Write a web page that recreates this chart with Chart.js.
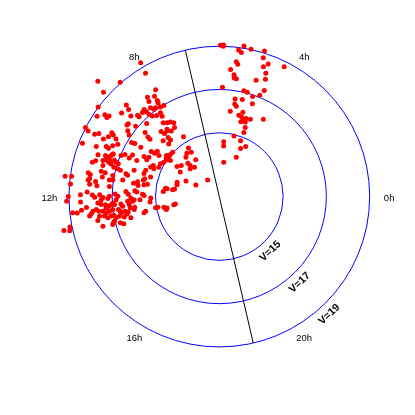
<!DOCTYPE html>
<html>
<head>
<meta charset="utf-8">
<title>RA / V</title>
<script src="https://cdn.jsdelivr.net/npm/chart.js@4.4.0/dist/chart.umd.min.js"></script>
<style>
  html, body { margin: 0; padding: 0; background: #fff; }
  #wrap { width: 415px; height: 415px; }
</style>
</head>
<body>
<div id="wrap"><canvas id="raChart"></canvas></div>
<script>
/* =====================
   DATA (RA in hours, V magnitude)
   ===================== */
const raHours = [
  // east group (4h - 6h)
  5.97, 5.90, 5.89, 5.38, 5.19, 5.50, 5.42, 4.85, 4.83, 5.52, 5.47, 4.65,
  4.75, 4.23, 5.66, 4.62, 5.54, 5.52, 5.45, 4.83, 4.57, 5.89, 5.13, 5.00,
  4.47, 4.77, 4.55, 5.39, 5.11, 5.37, 5.29, 4.69, 5.51, 4.96, 5.10, 4.95,
  4.83, 4.74, 4.54, 4.93, 4.72, 4.02, 4.63, 4.60, 5.09, 4.61, 5.69, 5.67,
  4.15, 4.41, 4.44, 5.51,
  // west group (8h - 13h)
  8.03, 9.10, 8.73, 9.20, 9.57, 9.03, 9.30, 9.78, 9.63, 9.66, 9.59, 9.08, 9.18,
  8.06, 8.05, 8.39, 8.19, 8.43, 8.19, 8.21, 8.72, 8.71, 8.83, 8.52,
  8.46, 8.38, 8.22, 8.09, 9.01, 9.01, 8.70, 8.65, 8.51, 8.34, 8.36,
  10.18, 10.23, 10.23, 10.16, 10.24, 10.11, 9.99, 10.58, 10.52, 10.41, 10.43, 10.30,
  10.73, 10.68, 10.70, 10.61, 10.54, 10.99, 10.92, 10.85, 10.80, 10.85, 10.78, 10.88,
  11.00, 11.19, 11.21, 11.31, 11.35, 11.50, 11.48, 11.47, 11.37, 11.25,
  9.48, 9.42, 9.33, 8.99, 8.48, 9.95, 9.62, 9.71, 9.28, 9.34, 9.36, 8.79,
  8.73, 8.56, 10.06, 10.18, 9.89, 9.86, 9.01, 10.55, 10.49, 10.40, 10.29, 9.86,
  9.77, 9.75, 9.59, 9.72, 10.73, 10.77, 10.80, 10.45, 10.43, 10.13, 10.21, 10.05,
  10.06, 9.88, 9.66, 9.48, 10.96, 10.98, 11.01, 11.08, 11.13, 10.86, 10.87, 10.69,
  10.45, 10.32, 10.46, 10.27, 10.94, 11.10,
  8.35, 8.22, 8.11, 8.52, 8.41, 8.20, 8.06, 8.73, 8.72, 8.93, 9.10, 9.29,
  9.44, 8.16, 8.46, 8.16, 8.69, 9.64, 9.57, 8.17, 8.88, 8.88, 9.63, 9.38,
  9.86, 9.09, 8.68,
  11.68, 11.52, 11.64, 11.54, 11.66, 11.43, 11.65, 12.00, 12.12, 11.95, 11.87, 11.95,
  12.02, 11.94, 12.10, 12.03, 12.07, 11.99, 12.15, 12.20, 12.26, 12.27, 12.38, 12.33,
  12.29, 12.31, 12.42, 12.44, 12.38, 12.44, 12.40, 12.46, 12.48, 12.55, 12.51, 12.47,
  12.57, 12.51, 12.62, 12.64, 12.72, 12.68, 12.74, 12.95, 12.93, 12.77, 12.82, 12.86,
  11.41, 11.35, 11.41, 11.31, 11.48, 11.18, 11.41, 11.35, 11.41, 11.65, 11.91, 11.99,
  12.12, 11.79, 11.90, 11.74, 11.79, 11.88, 11.94, 12.08, 12.30, 12.06, 12.21, 12.14,
  12.15, 12.23, 12.29, 12.29, 12.38, 12.20, 12.34, 12.48, 12.58, 12.48, 12.67, 12.66,
  12.73, 12.84, 12.49, 12.56, 12.63, 12.59, 12.71, 12.64, 12.81, 12.75, 12.67, 12.77,
  12.74, 12.81, 12.90, 12.88, 12.99, 13.06, 12.98,
  10.75, 10.97, 10.33, 10.24, 8.34, 11.44, 11.45, 11.35, 12.67, 12.64, 12.82, 12.92
];

const vMag = [
  19.05, 19.00, 19.06, 19.10, 19.02, 18.88, 18.79, 19.09, 18.78, 18.33, 18.22, 18.58,
  18.39, 18.76, 17.95, 18.14, 17.72, 17.57, 17.55, 17.69, 17.88, 17.11, 17.07, 17.04,
  17.38, 16.92, 17.09, 16.62, 16.66, 16.39, 16.30, 16.60, 16.03, 16.10, 15.92, 15.87,
  15.79, 15.87, 15.90, 15.65, 15.70, 16.16, 15.46, 15.22, 14.93, 14.81, 14.59, 14.40,
  14.67, 14.48, 14.03, 13.65,

  19.22, 19.79, 19.04, 19.25, 19.01, 18.08, 17.99, 18.81, 18.55, 18.40, 18.36, 17.86, 17.58,
  18.69, 17.80, 17.72, 17.57, 17.52, 17.33, 17.22, 17.37, 17.22, 17.31, 17.24,
  17.09, 17.10, 17.01, 16.98, 17.38, 17.28, 17.05, 16.89, 16.79, 16.78, 16.61,
  19.01, 18.83, 18.49, 18.33, 18.03, 17.87, 17.71, 18.84, 18.19, 17.76, 17.64, 17.51,
  17.98, 17.64, 17.48, 17.40, 17.33, 18.13, 18.00, 17.68, 17.55, 17.40, 17.35, 17.27,
  17.62, 17.63, 17.44, 18.21, 18.10, 19.24, 18.94, 18.10, 17.53, 17.07,
  17.45, 17.44, 17.10, 16.81, 16.34, 17.83, 17.26, 17.10, 16.58, 16.35, 16.21, 16.08,
  15.91, 15.93, 17.51, 17.33, 16.81, 16.66, 15.71, 17.35, 16.97, 16.82, 16.50, 16.33,
  15.82, 15.65, 15.60, 15.42, 17.18, 17.08, 16.96, 16.58, 16.21, 15.99, 15.81, 15.78,
  15.16, 15.07, 15.00, 15.14, 17.11, 16.92, 16.78, 16.49, 16.40, 16.17, 15.69, 15.66,
  15.50, 15.42, 15.34, 15.16, 15.35, 15.60,
  16.23, 16.17, 16.06, 15.99, 15.81, 15.85, 15.27, 15.66, 15.50, 15.42, 15.02, 15.03,
  15.03, 14.71, 14.55, 14.47, 14.43, 15.06, 14.86, 14.07, 14.17, 14.02, 14.45, 14.32,
  14.18, 13.91, 13.83,
  18.95, 18.16, 18.07, 17.81, 17.73, 17.19, 17.15, 19.03, 19.11, 18.47, 18.16, 17.92,
  17.81, 17.58, 17.51, 17.43, 17.20, 17.13, 18.47, 17.67, 17.52, 17.32, 17.31, 17.17,
  17.06, 18.21, 18.87, 18.66, 18.45, 17.93, 17.77, 17.65, 17.47, 17.33, 17.17, 17.01,
  18.11, 18.02, 17.66, 17.43, 17.29, 17.13, 17.77, 17.60, 17.09, 19.10, 19.40, 19.14,
  17.03, 16.58, 16.06, 15.89, 15.84, 15.64, 15.57, 15.42, 14.57, 14.65, 16.87, 16.74,
  16.82, 16.37, 16.26, 15.96, 15.87, 15.60, 15.53, 15.22, 15.26, 16.14, 16.06, 15.99,
  15.72, 16.98, 16.91, 16.61, 16.54, 16.29, 16.23, 16.20, 16.03, 15.99, 15.04, 14.93,
  14.66, 14.60, 16.75, 16.68, 16.63, 16.46, 16.39, 16.32, 15.61, 15.52, 17.00, 16.92,
  16.76, 16.54, 16.25, 17.03, 16.78, 16.64, 17.14,
  14.11, 14.08, 13.75, 13.26, 12.99, 14.49, 14.23, 14.15, 14.19, 14.11, 14.52, 14.57
];

// grid / labels
const circleMags  = [15, 17, 19];
const circleLabels = ["V=15", "V=17", "V=19"];
const hourTicks   = [0, 4, 8, 12, 16, 20];
const hourLabels  = ["0h", "4h", "8h", "12h", "16h", "20h"];
const lineRA      = 6.87;   // black diameter line (hours)
const lineMag     = 19;

/* === AXIS SETUP === */
const V_CENTER = 12.05;      // magnitude at the centre of the plot
const X_MIN = -10.02, X_MAX = 8.93;
const Y_MIN = -9.98,  Y_MAX = 8.97;
const HOUR_LABEL_RX = 7.85;  // hour labels sit a bit wider than tall
const HOUR_LABEL_RY = 7.5;
const V_LABEL_RA = 20.87;    // direction of V=.. labels
const V_LABEL_OFF = 0.5;

function toXY(ra, v){
  const a = ra * 15 * Math.PI / 180;
  const r = v - V_CENTER;
  return { x: r * Math.cos(a), y: r * Math.sin(a) };
}

const points = [];
const n = Math.min(raHours.length, vMag.length);
for(let i = 0; i < n; i++){
  points.push(toXY(raHours[i], vMag[i]));
}

/* === POLAR GRID PLUGIN === */
const polarGrid = {
  id: "polarGrid",
  beforeDatasetsDraw(chart){
    const ctx = chart.ctx;
    const sx = chart.scales.x, sy = chart.scales.y;
    const cx = sx.getPixelForValue(0);
    const cy = sy.getPixelForValue(0);

    ctx.save();
    ctx.strokeStyle = "#0000ff";
    ctx.lineWidth = 1;
    circleMags.forEach(m => {
      const rad = sx.getPixelForValue(m - V_CENTER) - cx;
      ctx.beginPath();
      ctx.arc(cx, cy, rad, 0, Math.PI * 2);
      ctx.stroke();
    });

    const p1 = toXY(lineRA, lineMag);
    const p2 = toXY(lineRA + 12, lineMag);
    ctx.strokeStyle = "#000";
    ctx.beginPath();
    ctx.moveTo(sx.getPixelForValue(p1.x), sy.getPixelForValue(p1.y));
    ctx.lineTo(sx.getPixelForValue(p2.x), sy.getPixelForValue(p2.y));
    ctx.stroke();
    ctx.restore();
  },
  afterDatasetsDraw(chart){
    const ctx = chart.ctx;
    const sx = chart.scales.x, sy = chart.scales.y;

    ctx.save();
    ctx.fillStyle = "#000";
    ctx.textAlign = "center";
    ctx.textBaseline = "middle";

    // hour labels
    ctx.font = '9.5px "Liberation Sans", Arial, sans-serif';
    hourTicks.forEach((h, i) => {
      const a = h * 15 * Math.PI / 180;
      const px = sx.getPixelForValue(HOUR_LABEL_RX * Math.cos(a));
      const py = sy.getPixelForValue(HOUR_LABEL_RY * Math.sin(a));
      ctx.fillText(hourLabels[i], px, py + 1.5);
    });

    // magnitude labels, rotated along the circles
    ctx.font = 'bold 10.5px "Liberation Sans", Arial, sans-serif';
    const rot = -(V_LABEL_RA * 15 - 270) * Math.PI / 180;
    circleMags.forEach((m, i) => {
      const p = toXY(V_LABEL_RA, m + V_LABEL_OFF);
      ctx.save();
      ctx.translate(sx.getPixelForValue(p.x), sy.getPixelForValue(p.y));
      ctx.rotate(rot);
      ctx.fillText(circleLabels[i], 0, 0);
      ctx.restore();
    });
    ctx.restore();
  }
};

/* === CHART === */
const ctx = document.getElementById("raChart").getContext("2d");
const chart = new Chart(ctx, {
  type: "scatter",
  data: {
    datasets: [{
      data: points,
      backgroundColor: "#ff0000",
      borderWidth: 0,
      pointRadius: 2.5,
      pointHoverRadius: 2.5,
      clip: false
    }]
  },
  options: {
    responsive: true,
    maintainAspectRatio: false,
    animation: false,
    layout: { padding: 0 },
    plugins: {
      legend: { display: false },
      tooltip: { enabled: false }
    },
    scales: {
      x: { type: "linear", display: false, min: X_MIN, max: X_MAX },
      y: { type: "linear", display: false, min: Y_MIN, max: Y_MAX }
    }
  },
  plugins: [polarGrid]
});
</script>
</body>
</html>
